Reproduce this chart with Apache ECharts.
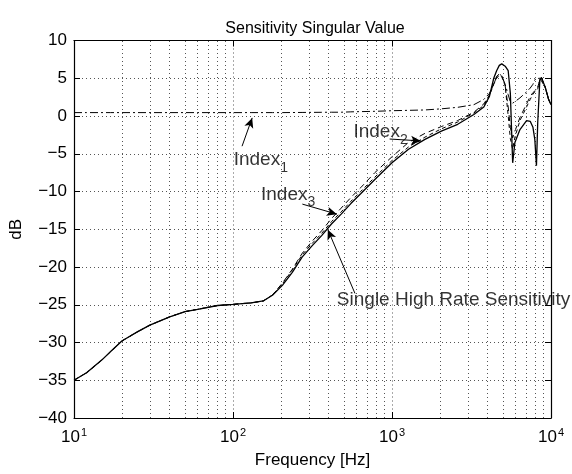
<!DOCTYPE html>
<html><head><meta charset="utf-8">
<script src="https://cdn.jsdelivr.net/npm/echarts@6/dist/echarts.min.js"></script>
<style>html,body{margin:0;padding:0;background:#fff}#c{width:572px;height:474px}</style>
</head><body><div id="c"></div>
<script>
// ---- data (frequency in Hz, magnitude in dB) ----
var freq = [10, 12, 15, 17, 20, 25, 30, 40, 50, 60, 80, 100, 130, 155, 177, 205, 236, 272, 314, 361, 416, 479, 551, 635, 780, 1000, 1270, 1611, 2043, 2590, 3273, 3780, 4100, 4364, 4550, 4730, 4900, 5150, 5380, 5550, 5740, 5930, 6380, 7020, 7400, 7700, 7910, 8100, 8250, 8510, 8700, 9200, 9660, 10000];
var singleHigh = [-35, -34.0, -32.3, -31.2, -29.8, -28.6, -27.7, -26.6, -25.9, -25.6, -25.1, -24.95, -24.75, -24.5, -23.75, -22.4, -20.7, -18.7, -17.2, -15.85, -14.3, -13.0, -11.6, -10.3, -8.4, -6.2, -4.4, -3.1, -2.0, -1.1, 0.2, 1.2, 2.6, 5.0, 6.0, 6.7, 6.9, 6.6, 6.0, 3.0, -6.2, -3.5, -1.8, -0.6, -0.7, -1.5, -3.1, -6.6, -0.9, 4.8, 5.1, 3.8, 2.2, 1.5];
var index1 = [0.45, 0.45, 0.45, 0.45, 0.45, 0.45, 0.45, 0.45, 0.45, 0.45, 0.45, 0.45, 0.45, 0.45, 0.45, 0.45, 0.46, 0.47, 0.48, 0.49, 0.5, 0.5, 0.55, 0.58, 0.62, 0.7, 0.75, 0.8, 0.95, 1.15, 1.5, 2.2, 3.0, 4.2, 5.2, 5.6, 5.3, 4.2, 2.8, 1.9, 1.7, 1.9, 2.4, 3.2, 3.7, 4.2, 4.8, 5.0, 5.0, 5.0, 5.1, 3.8, 2.2, 1.5];
var index2 = [-35, -34.0, -32.3, -31.2, -29.8, -28.6, -27.7, -26.6, -25.9, -25.6, -25.1, -24.95, -24.75, -24.5, -23.7, -22.1, -20.3, -18.2, -16.6, -15.2, -13.6, -12.2, -10.8, -9.5, -7.5, -5.4, -3.5, -2.3, -1.4, -0.6, 0.5, 1.6, 2.8, 4.3, 5.2, 5.6, 5.4, 4.0, 1.2, -1.5, -2.9, -2.0, -0.2, 1.6, 2.6, 3.1, 3.3, 3.5, 3.8, 4.8, 5.1, 3.8, 2.2, 1.5];
var index3 = [-35, -34.0, -32.3, -31.2, -29.8, -28.6, -27.7, -26.6, -25.9, -25.6, -25.1, -24.95, -24.75, -24.5, -23.7, -22.2, -20.4, -18.4, -16.9, -15.55, -14.0, -12.7, -11.3, -10.0, -8.1, -5.9, -4.1, -2.8, -1.7, -0.8, 0.4, 1.4, 2.7, 4.2, 5.0, 5.4, 5.2, 4.0, 0.0, -3.0, -4.4, -2.8, -0.6, 1.2, 2.2, 2.9, 3.2, 3.3, 3.6, 4.8, 5.1, 3.8, 2.2, 1.5];
var minorX = [20, 30, 40, 50, 60, 70, 80, 90, 200, 300, 400, 500, 600, 700, 800, 900, 2000, 3000, 4000, 5000, 6000, 7000, 8000, 9000];
// annotations: [freq, dB, text, subscript]
var labels = [[101, -5.8, 'Index', '1'], [572, -2.1, 'Index', '2'], [150, -10.4, 'Index', '3'], [450, -24.4, 'Single High Rate Sensitivity', '']];
// arrows: [tailFreq, tailDb, tipFreq, tipDb]
var arrows = [[114, -4.0, 132, -0.25], [966, -3.05, 1521, -3.3], [273, -11.67, 450, -13.0], [585, -23.5, 395, -15.06]];

var FONT = 'Liberation Sans, Arial, Helvetica, sans-serif';
function pairs(ys) { return freq.map(function (f, i) { return [f, ys[i]]; }); }
var chart = echarts.init(document.getElementById('c'), null, { renderer: 'canvas' });
var gridLine = { show: true, lineStyle: { color: '#555', width: 1, type: [1, 3] } };
var xBase = {
  type: 'log', logBase: 10, min: 10, max: 10000, splitNumber: 3,
  axisLine: { show: true, onZero: false, lineStyle: { color: '#000', width: 1.2 } },
  axisTick: { show: true, inside: true, length: 6, lineStyle: { color: '#000' } },
  minorTick: { show: false }
};
var yBase = {
  type: 'value', min: -40, max: 10, interval: 5,
  axisLine: { show: true, onZero: false, lineStyle: { color: '#000', width: 1.2 } },
  axisTick: { show: true, inside: true, length: 6, lineStyle: { color: '#000' } }
};
var lineCommon = { type: 'line', showSymbol: false, symbol: 'none', smooth: false };
var option = {
  animation: false,
  backgroundColor: '#fff',
  textStyle: { fontFamily: FONT },
  title: { text: 'Sensitivity Singular Value', left: 310, top: 16, textAlign: 'center',
    textStyle: { fontFamily: FONT, fontWeight: 'normal', fontSize: 16, color: '#000' } },
  grid: { left: 69, right: 21, top: 40.5, bottom: 54, containLabel: false },
  xAxis: [
    Object.assign({}, xBase, {
      position: 'bottom', splitLine: gridLine,
      name: 'Frequency [Hz]', nameLocation: 'middle', nameGap: 34,
      nameTextStyle: { fontFamily: FONT, fontSize: 17, color: '#000' },
      axisLabel: { show: true, margin: 9, color: '#000',
        formatter: function (v) { return '{b|10}{e|' + Math.round(Math.log10(v)) + '}'; },
        rich: { b: { fontFamily: FONT, fontSize: 17, color: '#000' },
                e: { fontFamily: FONT, fontSize: 11, color: '#000', verticalAlign: 'top', padding: [0, 0, 10, 1] } } }
    }),
    Object.assign({}, xBase, { position: 'top', splitLine: { show: false }, axisLabel: { show: false } })
  ],
  yAxis: [
    Object.assign({}, yBase, {
      position: 'left', splitLine: gridLine,
      name: 'dB', nameLocation: 'middle', nameGap: 49,
      nameTextStyle: { fontFamily: FONT, fontSize: 17, color: '#000' },
      axisLabel: { show: true, margin: 7, color: '#000', fontFamily: FONT, fontSize: 17,
        formatter: function (v) { return v < 0 ? '\u2212' + (-v) : String(v); } }
    }),
    Object.assign({}, yBase, { position: 'right', splitLine: { show: false }, axisLabel: { show: false } })
  ],
  series: [
    Object.assign({}, lineCommon, { name: 'Single High Rate Sensitivity', data: pairs(singleHigh),
      lineStyle: { color: '#000', width: 1.3 }, z: 5,
      markLine: { silent: true, symbol: ['none', 'none'], label: { show: false },
        lineStyle: { color: '#555', width: 1, type: [1, 3] },
        data: minorX.map(function (f) { return { xAxis: f }; }) } }),
    Object.assign({}, lineCommon, { name: 'Index 1', data: pairs(index1),
      lineStyle: { color: '#000', width: 1, type: [8, 3, 2, 3] }, z: 4 }),
    Object.assign({}, lineCommon, { name: 'Index 2', data: pairs(index2),
      lineStyle: { color: '#000', width: 1, type: [6, 4] }, z: 4 }),
    Object.assign({}, lineCommon, { name: 'Index 3', data: pairs(index3),
      lineStyle: { color: '#000', width: 1, type: [4, 3] }, z: 4 }),
    { name: 'annotations', type: 'scatter', symbolSize: 0, silent: true, z: 10,
      data: labels.map(function (l) { return [l[0], l[1]]; }),
      label: { show: true, position: 'right', distance: 0, color: '#000',
        formatter: function (p) { var l = labels[p.dataIndex]; return '{n|' + l[2] + '}' + (l[3] ? '{s|' + l[3] + '}' : ''); },
        rich: { n: { fontFamily: FONT, fontSize: 19, color: '#000' },
                s: { fontFamily: FONT, fontSize: 14, color: '#000', padding: [16, 0, 0, 0] } } },
      markLine: { silent: true, symbol: ['none', 'arrow'], symbolSize: [7, 10], label: { show: false },
        lineStyle: { color: '#000', width: 1, type: 'solid' },
        data: arrows.map(function (a) { return [{ coord: [a[0], a[1]] }, { coord: [a[2], a[3]] }]; }) } }
  ]
};
chart.setOption(option);
</script></body></html>
